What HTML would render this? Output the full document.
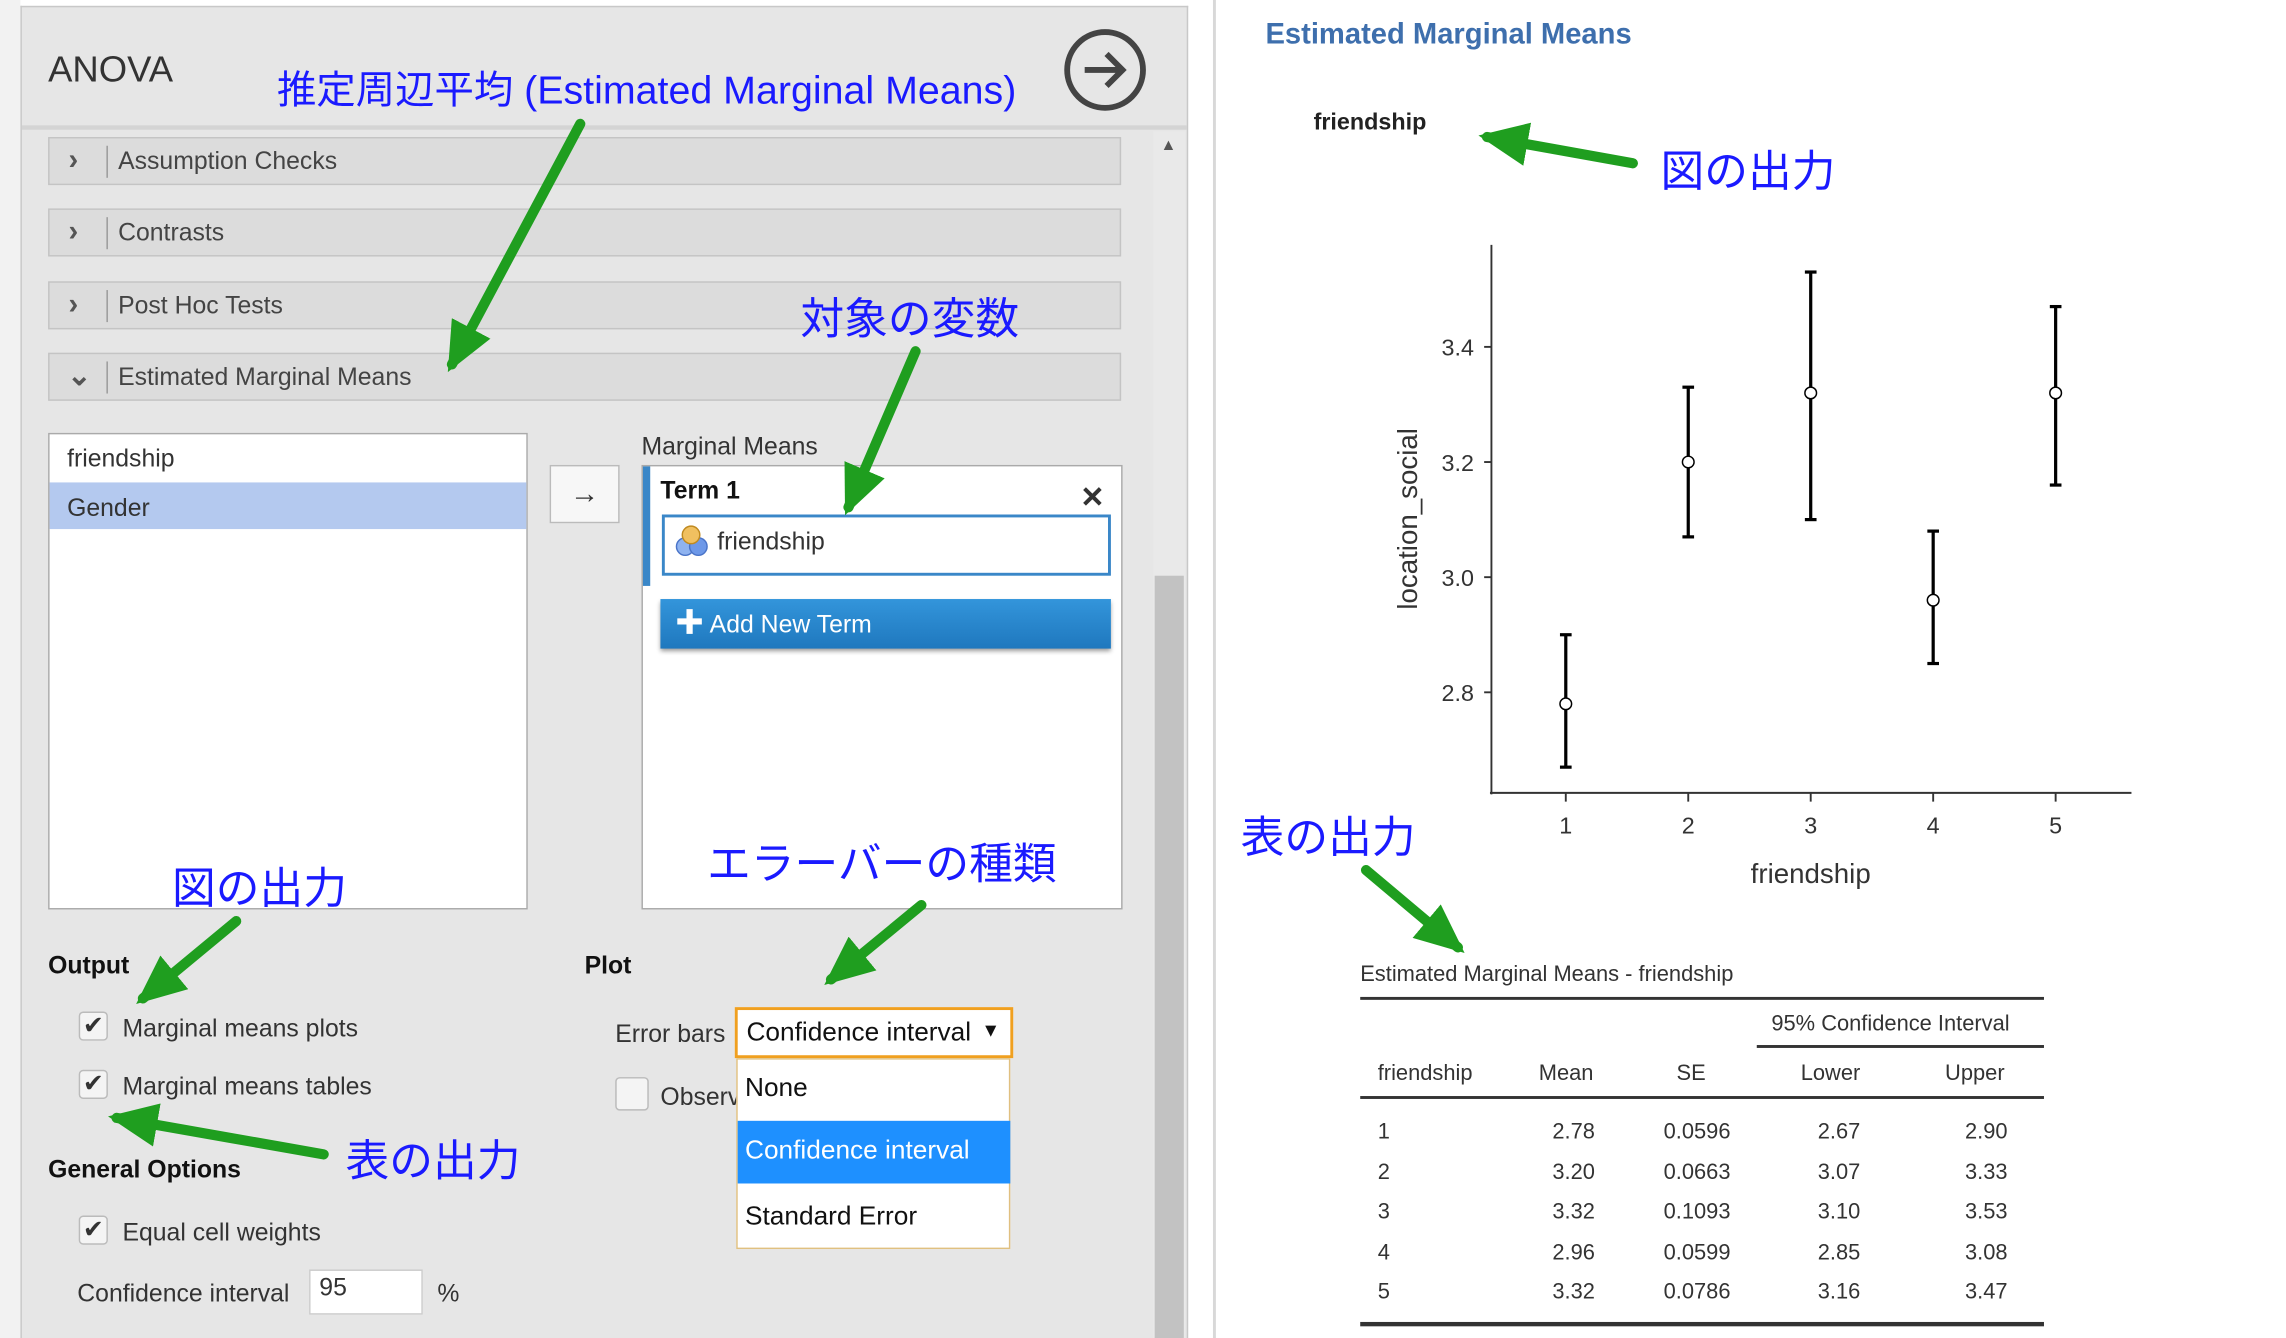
<!DOCTYPE html>
<html><head><meta charset="utf-8">
<style>
html,body{margin:0;padding:0;width:2286px;height:1338px;overflow:hidden;background:#fff}
#root{position:absolute;left:0;top:0;width:1568px;height:918px;transform:scale(1.4579,1.4575);transform-origin:0 0;font-family:"Liberation Sans","Noto Sans CJK JP",sans-serif;color:#333;overflow:hidden}
.a{position:absolute;white-space:nowrap}
.sec{position:absolute;left:33px;width:736px;height:33px;background:#dcdcdc;border:1px solid #c4c4c4;box-sizing:border-box;font-size:17px;color:#444}
.sec .chev{position:absolute;left:13px;top:4px;font-size:20px;font-weight:bold;color:#555}
.sec .bar{position:absolute;left:39px;top:5px;width:1px;height:22px;background:#999}
.sec .t{position:absolute;left:47px;top:6px}
.jp{color:#1a1aff;font-family:"Liberation Sans","Noto Sans CJK JP",sans-serif}
.cb{position:absolute;width:20px;height:20px;border:1px solid #bbb;border-radius:3px;background:#f4f4f4;box-sizing:border-box;font-size:17px;line-height:18px;text-align:center;color:#333}
.lbl{font-size:17px;color:#333}
</style></head><body>
<div id="root">
<div class="a" style="left:0;top:0;width:14px;height:918px;background:#f2f2f2"></div>
<div class="a" style="left:14px;top:4px;width:801px;height:914px;background:#e6e6e6;border-top:1px solid #c8c8c8;border-right:1px solid #c8c8c8;border-left:1px solid #c8c8c8;box-sizing:border-box"></div>
<div class="a" style="left:33px;top:34px;font-size:25px;color:#333">ANOVA</div>
<div class="a jp" style="left:190px;top:40px;font-size:27px">推定周辺平均 (Estimated Marginal Means)</div>
<svg class="a" style="left:728px;top:18px" width="60" height="60"><circle cx="30" cy="30" r="26" fill="none" stroke="#444" stroke-width="4"/><path d="M16 30 H42 M31 19 L42 30 L31 41" fill="none" stroke="#444" stroke-width="4"/></svg>
<div class="a" style="left:15px;top:86px;width:799px;height:3px;background:#d4d4d4"></div>
<div class="a" style="left:791px;top:90px;width:22px;height:828px;background:#e9e9e9"></div>
<div class="a" style="left:792px;top:395px;width:20px;height:523px;background:#c2c2c2"></div>
<div class="a" style="left:796px;top:94px;font-size:11px;color:#555">▲</div>

<div class="sec" style="top:94px"><span class="chev">›</span><span class="bar"></span><span class="t">Assumption Checks</span></div>
<div class="sec" style="top:143px"><span class="chev">›</span><span class="bar"></span><span class="t">Contrasts</span></div>
<div class="sec" style="top:193px"><span class="chev">›</span><span class="bar"></span><span class="t">Post Hoc Tests</span></div>
<div class="sec" style="top:242px"><span class="chev" style="left:12px;top:2px">⌄</span><span class="bar"></span><span class="t">Estimated Marginal Means</span></div>
<div class="a jp" style="left:549px;top:194px;font-size:30px">対象の変数</div>

<div class="a" style="left:33px;top:297px;width:329px;height:327px;background:#fff;border:1px solid #aaa;box-sizing:border-box"></div>
<div class="a lbl" style="left:46px;top:305px">friendship</div>
<div class="a lbl" style="left:34px;top:331px;width:327px;height:32px;background:#b4c9ef;padding:8px 12px;box-sizing:border-box">Gender</div>
<div class="a" style="left:377px;top:319px;width:48px;height:40px;background:#f7f7f7;border:1px solid #bbb;box-sizing:border-box;text-align:center;font-size:20px;line-height:38px;color:#333">→</div>
<div class="a lbl" style="left:440px;top:297px">Marginal Means</div>
<div class="a" style="left:440px;top:319px;width:330px;height:305px;background:#fff;border:1px solid #aaa;box-sizing:border-box"></div>
<div class="a" style="left:441px;top:320px;width:5px;height:82px;background:#3a87c8"></div>
<div class="a" style="left:453px;top:327px;font-size:17px;font-weight:bold;color:#111">Term 1</div>
<div class="a" style="left:741px;top:329px;font-size:20px;font-weight:bold;color:#333">✕</div>
<div class="a" style="left:454px;top:353px;width:308px;height:42px;border:2px solid #3a87c8;box-sizing:border-box;background:#fff"></div>
<svg class="a" style="left:462px;top:359px" width="26" height="24"><circle cx="8" cy="16" r="6" fill="#8fb3f0" stroke="#4a74c8"/><circle cx="17" cy="16" r="6" fill="#6d98e8" stroke="#4a74c8"/><circle cx="12" cy="8" r="6" fill="#f0c060" stroke="#c08a20"/></svg>
<div class="a lbl" style="left:492px;top:362px">friendship</div>
<div class="a" style="left:453px;top:411px;width:309px;height:34px;background:linear-gradient(#3395db,#1f78be);color:#fff;font-size:17px;line-height:34px;box-sizing:border-box;padding-left:10px;box-shadow:0 2px 3px #999"><b style="font-size:20px">✚</b> Add New Term</div>

<div class="a jp" style="left:118px;top:585px;font-size:30px">図の出力</div>
<div class="a jp" style="left:485px;top:568px;font-size:30px">エラーバーの種類</div>

<div class="a" style="left:33px;top:653px;font-size:17px;font-weight:bold;color:#111">Output</div>
<div class="cb" style="left:54px;top:694px">✔</div>
<div class="a lbl" style="left:84px;top:696px">Marginal means plots</div>
<div class="cb" style="left:54px;top:734px">✔</div>
<div class="a lbl" style="left:84px;top:736px">Marginal means tables</div>
<div class="a jp" style="left:237px;top:772px;font-size:30px">表の出力</div>
<div class="a" style="left:33px;top:793px;font-size:17px;font-weight:bold;color:#111">General Options</div>
<div class="cb" style="left:54px;top:834px">✔</div>
<div class="a lbl" style="left:84px;top:836px">Equal cell weights</div>
<div class="a lbl" style="left:53px;top:878px">Confidence interval</div>
<div class="a lbl" style="left:212px;top:871px;width:78px;height:31px;background:#fff;border:1px solid #ccc;box-sizing:border-box;padding:2px 6px">95</div>
<div class="a lbl" style="left:300px;top:878px">%</div>

<div class="a" style="left:401px;top:653px;font-size:17px;font-weight:bold;color:#111">Plot</div>
<div class="a lbl" style="left:422px;top:700px">Error bars</div>
<div class="a" style="left:504px;top:691px;width:191px;height:35px;background:#fff;border:2px solid #f0a020;box-sizing:border-box;font-size:18px;color:#111;padding:5px 6px">Confidence interval <span style="position:absolute;right:7px;top:6px;font-size:13px">▼</span></div>
<div class="cb" style="left:422px;top:739px;width:23px;height:23px"></div>
<div class="a lbl" style="left:453px;top:743px">Observ</div>
<div class="a" style="left:505px;top:726px;width:188px;height:131px;background:#fff;border:1px solid #e0c080;box-sizing:border-box"></div>
<div class="a" style="left:511px;top:736px;font-size:18px;color:#111">None</div>
<div class="a" style="left:506px;top:769px;width:187px;height:43px;background:#1e90ff;color:#fff;font-size:18px;padding:10px 5px;box-sizing:border-box">Confidence interval</div>
<div class="a" style="left:511px;top:824px;font-size:18px;color:#111">Standard Error</div>

<div class="a" style="left:832px;top:0;width:2px;height:918px;background:#d8d8d8"></div>
<div class="a" style="left:868px;top:13px;font-size:20px;font-weight:bold;color:#3e6fad">Estimated Marginal Means</div>
<div class="a" style="left:901px;top:76px;font-size:16px;font-weight:bold;color:#222">friendship</div>
<div class="a jp" style="left:1139px;top:93px;font-size:30px">図の出力</div>
<div class="a jp" style="left:851px;top:550px;font-size:30px">表の出力</div>

<svg class="a" id="chart" style="left:0;top:0" width="1568" height="918"></svg>

<div class="a" style="left:933px;top:660px;font-size:15px;color:#333">Estimated Marginal Means - friendship</div>
<div class="a" style="left:933px;top:684px;width:469px;height:2px;background:#333"></div>
<div class="a" style="left:1215px;top:694px;font-size:15px;color:#333">95% Confidence Interval</div>
<div class="a" style="left:1205px;top:717px;width:197px;height:2px;background:#333"></div>
<div class="a" style="left:933px;top:752px;width:469px;height:2px;background:#333"></div>
<div class="a" style="left:933px;top:907px;width:469px;height:3px;background:#333"></div>
<div id="tbl" class="a" style="left:0;top:0;width:1568px;height:918px"></div>

<svg class="a" style="left:0;top:0" width="1568" height="918">
<defs><marker id="ah" markerUnits="userSpaceOnUse" markerWidth="34" markerHeight="30" refX="28" refY="15" orient="auto"><path d="M0 0 L34 15 L0 30 Z" fill="#1f9e1f"/></marker></defs>
<g stroke="#1f9e1f" stroke-width="7" stroke-linecap="round" fill="none" marker-end="url(#ah)">
<line x1="398" y1="85" x2="310" y2="250"/>
<line x1="628" y1="241" x2="582" y2="348"/>
<line x1="162" y1="632" x2="98" y2="685"/>
<line x1="632" y1="621" x2="570" y2="672"/>
<line x1="222" y1="792" x2="80" y2="767"/>
<line x1="1120" y1="112" x2="1020" y2="94"/>
<line x1="937" y1="597" x2="1000" y2="650"/>
</g></svg>
</div>
<script>
const categories=["1","2","3","4","5"];
const means=[2.78,3.20,3.32,2.96,3.32];
const lowers=[2.67,3.07,3.10,2.85,3.16];
const uppers=[2.90,3.33,3.53,3.08,3.47];
const ses=["0.0596","0.0663","0.1093","0.0599","0.0786"];
const yTicks=[2.8,3.0,3.2,3.4];
const NS="http://www.w3.org/2000/svg";
const svg=document.getElementById('chart');
function y(v){return 396-(v-3.0)*395;}
function x(i){return 1074+i*84;}
function mk(tag,attrs){const e=document.createElementNS(NS,tag);for(const k in attrs)e.setAttribute(k,attrs[k]);svg.appendChild(e);return e;}
let e;
e=mk('line',{x1:1023,y1:168,x2:1023,y2:545,stroke:'#333','stroke-width':1.3});


e=mk('line',{x1:1022,y1:544,x2:1462,y2:544,stroke:'#333','stroke-width':1.3});


yTicks.forEach(t=>{
 e=mk('line',{x1:1018,y1:y(t),x2:1023,y2:y(t),stroke:'#333','stroke-width':1.3});
 
 
 e=mk('text',{x:1011,y:y(t)+6,'text-anchor':'end','font-size':16,fill:'#333','font-family':'Liberation Sans'});
 e.textContent=t.toFixed(1);
 
 
});
categories.forEach((c,i)=>{
 e=mk('line',{x1:x(i),y1:544,x2:x(i),y2:550,stroke:'#333','stroke-width':1.3});
 
 
 e=mk('text',{x:x(i),y:572,'text-anchor':'middle','font-size':16,fill:'#333','font-family':'Liberation Sans'});
 e.textContent=c;
 
 
 const g=mk('g',{stroke:'#000','stroke-width':2.2,fill:'none'});
 
 
 [[x(i),y(lowers[i]),x(i),y(uppers[i])],[x(i)-4,y(lowers[i]),x(i)+4,y(lowers[i])],[x(i)-4,y(uppers[i]),x(i)+4,y(uppers[i])]].forEach(p=>{const l=document.createElementNS(NS,'line');l.setAttribute('x1',p[0]);l.setAttribute('y1',p[1]);l.setAttribute('x2',p[2]);l.setAttribute('y2',p[3]);g.appendChild(l);});
 e=mk('circle',{cx:x(i),cy:y(means[i]),r:4,fill:'#fff',stroke:'#000','stroke-width':1});
 
 
});
e=mk('text',{x:1242,y:606,'text-anchor':'middle','font-size':19,fill:'#333','font-family':'Liberation Sans'});
e.textContent='friendship';


e=mk('text',{x:0,y:0,'text-anchor':'middle','font-size':19,fill:'#333','font-family':'Liberation Sans',transform:'translate(972,356) rotate(-90)'});
e.textContent='location_social';



const tbl=document.getElementById('tbl');
function cell(txt,left,top,align,name){const d=document.createElement('div');d.className='a';d.style.cssText='top:'+top+'px;font-size:15px;color:#333;'+(align==='r'?'left:'+(left-100)+'px;width:100px;text-align:right':align==='c'?'left:'+(left-40)+'px;width:80px;text-align:center':'left:'+left+'px');d.textContent=txt;


tbl.appendChild(d);}
cell('friendship',945,728,'l','col-friendship');
cell('Mean',1093,728,'r','col-mean');
cell('SE',1160,728,'c','col-se');
cell('Lower',1276,728,'r','col-lower');
cell('Upper',1375,728,'r','col-upper');
categories.forEach((c,i)=>{const t=768+i*27.5;
 cell(c,945,t,'l','row-friendship');
 cell(means[i].toFixed(2),1094,t,'r','row-mean');
 cell(ses[i],1187,t,'r','row-se');
 cell(lowers[i].toFixed(2),1276,t,'r','row-lower');
 cell(uppers[i].toFixed(2),1377,t,'r','row-upper');
});
</script>
</body></html>
